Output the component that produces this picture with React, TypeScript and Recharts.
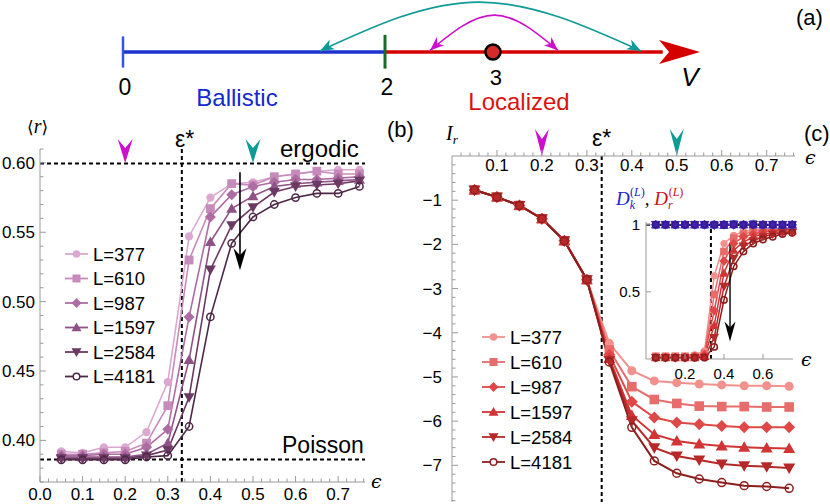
import React from 'react';
import { LineChart, ComposedChart, Line, XAxis, YAxis, ReferenceLine, ReferenceDot } from 'recharts';

// ---------- shared data ----------
const EPS = [0.05, 0.1, 0.15, 0.2, 0.25, 0.3, 0.35, 0.4, 0.45, 0.5, 0.55, 0.6, 0.65, 0.7, 0.75];
const SIZE_LABELS = ['L=377', 'L=610', 'L=987', 'L=1597', 'L=2584', 'L=4181'];
const SHAPES = ['circle', 'square', 'diamond', 'triUp', 'triDown', 'open'];

// (b) mean gap ratio <r>
const R_377 = [0.392, 0.391, 0.395, 0.395, 0.406, 0.442, 0.547, 0.575, 0.585, 0.586, 0.590, 0.592, 0.594, 0.595, 0.595];
const R_610 = [0.390, 0.390, 0.391, 0.392, 0.398, 0.425, 0.530, 0.567, 0.585, 0.584, 0.590, 0.592, 0.594, 0.592, 0.592];
const R_987 = [0.389, 0.389, 0.390, 0.390, 0.395, 0.408, 0.489, 0.561, 0.577, 0.583, 0.586, 0.588, 0.588, 0.589, 0.590];
const R_1597 = [0.388, 0.388, 0.388, 0.388, 0.390, 0.398, 0.458, 0.543, 0.567, 0.576, 0.583, 0.585, 0.586, 0.587, 0.588];
const R_2584 = [0.387, 0.387, 0.387, 0.387, 0.389, 0.393, 0.431, 0.523, 0.555, 0.568, 0.579, 0.583, 0.584, 0.585, 0.587];
const R_4181 = [0.386, 0.386, 0.386, 0.386, 0.388, 0.389, 0.410, 0.489, 0.542, 0.561, 0.570, 0.575, 0.578, 0.578, 0.583];
const R_ERGODIC = 0.5996;
const R_POISSON = 0.3863;
const EPS_STAR = 0.333;

// (c) I_r
const I_377 = [-0.77, -0.93, -1.12, -1.42, -1.92, -2.80, -4.24, -4.86, -5.09, -5.13, -5.16, -5.18, -5.20, -5.20, -5.21];
const I_610 = [-0.77, -0.93, -1.12, -1.42, -1.92, -2.80, -4.39, -5.22, -5.51, -5.60, -5.66, -5.67, -5.67, -5.68, -5.68];
const I_987 = [-0.77, -0.93, -1.12, -1.42, -1.92, -2.80, -4.50, -5.56, -5.92, -6.03, -6.07, -6.11, -6.14, -6.14, -6.14];
const I_1597 = [-0.77, -0.93, -1.12, -1.42, -1.92, -2.80, -4.58, -5.87, -6.30, -6.45, -6.52, -6.56, -6.59, -6.61, -6.62];
const I_2584 = [-0.77, -0.93, -1.12, -1.42, -1.92, -2.80, -4.63, -5.99, -6.60, -6.79, -6.88, -6.97, -7.01, -7.03, -7.06];
const I_4181 = [-0.77, -0.93, -1.12, -1.42, -1.92, -2.80, -4.66, -6.14, -6.90, -7.18, -7.31, -7.39, -7.46, -7.48, -7.52];

// inset D_k, D_r
const DK_377 = [1.0, 1.0, 1.0, 1.0, 1.0, 1.0, 1.0, 1.005, 1.01, 1.0, 1.01, 0.995, 1.005, 1.0, 0.995];
const DK_610 = [1.0, 1.0, 1.0, 1.0, 1.0, 1.0, 1.0, 1.0, 1.005, 1.0, 1.005, 1.0, 1.0, 1.0, 1.0];
const DK_987 = [1.0, 1.0, 1.0, 1.0, 1.0, 1.0, 1.0, 1.0, 1.0, 1.0, 1.0, 1.0, 1.0, 1.0, 1.0];
const DK_1597 = [1.0, 1.0, 1.0, 1.0, 1.0, 1.0, 1.0, 0.995, 1.0, 1.0, 1.0, 1.0, 1.0, 0.995, 1.0];
const DK_2584 = [1.0, 1.0, 1.0, 1.0, 1.0, 1.0, 0.995, 1.0, 1.0, 0.995, 1.0, 1.0, 1.0, 1.0, 1.0];
const DK_4181 = [1.0, 1.0, 1.0, 1.0, 1.0, 1.0, 1.0, 1.0, 1.0, 1.0, 1.0, 1.0, 1.0, 1.0, 1.0];
const DR_377 = [0.02, 0.02, 0.02, 0.02, 0.03, 0.06, 0.62, 0.86, 0.92, 0.95, 0.96, 0.97, 0.97, 0.975, 0.975];
const DR_610 = [0.02, 0.02, 0.02, 0.02, 0.02, 0.04, 0.48, 0.80, 0.90, 0.93, 0.95, 0.96, 0.965, 0.97, 0.97];
const DR_987 = [0.01, 0.01, 0.01, 0.01, 0.02, 0.03, 0.36, 0.73, 0.86, 0.91, 0.93, 0.95, 0.955, 0.96, 0.965];
const DR_1597 = [0.01, 0.01, 0.01, 0.01, 0.01, 0.02, 0.25, 0.64, 0.81, 0.87, 0.91, 0.93, 0.94, 0.95, 0.955];
const DR_2584 = [0.01, 0.01, 0.01, 0.01, 0.01, 0.015, 0.16, 0.54, 0.75, 0.84, 0.88, 0.91, 0.93, 0.94, 0.945];
const DR_4181 = [0.01, 0.01, 0.01, 0.01, 0.01, 0.01, 0.09, 0.44, 0.69, 0.80, 0.86, 0.89, 0.91, 0.93, 0.94];

// (a) schematic number line (schematic positions, not to scale)
const BALLISTIC = [{ v: 0, y: 0 }, { v: 2, y: 0 }];
const LOCALIZED = [{ v: 2, y: 0 }, { v: 4.12, y: 0 }];
const ARROW_TIP_V = 4.405;
const POINT_3_V = 2.824;
const TEAL_ARC = [{ v: 1.504, y: 0.02 }, { v: 2.72, y: 0.96 }, { v: 3.954, y: 0.02 }];
const MAGENTA_ARC = [{ v: 2.344, y: 0.03 }, { v: 2.835, y: 0.71 }, { v: 3.321, y: 0.03 }];
const NUMBER_LABELS = [{ v: 0, t: '0' }, { v: 2, t: '2' }];

// ticks
const range = (a: number, b: number, step: number) => {
  const out: number[] = [];
  const n = Math.round((b - a) / step);
  for (let i = 0; i <= n; i++) out.push(Math.round((a + i * step) * 1000) / 1000);
  return out;
};
const B_X_MAJOR = [0, 0.1, 0.2, 0.3, 0.4, 0.5, 0.6, 0.7];
const B_X_TICKS = range(0, 0.76, 0.02);
const B_Y_MAJOR = [0.4, 0.45, 0.5, 0.55, 0.6];
const B_Y_TICKS = range(0.37, 0.61, 0.01);
const C_X_MAJOR = [0.1, 0.2, 0.3, 0.4, 0.5, 0.6, 0.7];
const C_X_TICKS = range(0.02, 0.76, 0.02);
const C_Y_MAJOR = [-1, -2, -3, -4, -5, -6, -7];
const C_Y_TICKS = range(-7.8, -0.2, 0.2);
const IN_X_MAJOR = [0.2, 0.4, 0.6];
const IN_Y_MAJOR = [0.5, 1];

// ---------- styles ----------
const SANS = "'Liberation Sans', Arial, Helvetica, sans-serif";
const SERIF = "'Liberation Serif', 'DejaVu Serif', serif";
const AXIS = '#9a9a9a';
const PURPLES = ['#daa8d0', '#c68bba', '#ad6ca2', '#8f5287', '#6c3962', '#4c2846'];
const REDS = ['#f2918d', '#e66d6b', '#de4947', '#d13434', '#b72828', '#8c1e1e'];
const BLUES = ['#6a8cf2', '#4f6ee6', '#3f50d6', '#3a36c4', '#3d24a8', '#3e1490'];
const MAGENTA = '#cc11cc';
const TEAL = '#0f9a96';

const keys = ['s0', 's1', 's2', 's3', 's4', 's5'];
const build = (series: number[][]) =>
  EPS.map((e, i) => {
    const row: any = { eps: e };
    series.forEach((s, k) => (row[keys[k]] = s[i]));
    return row;
  });
const DATA_B = build([R_377, R_610, R_987, R_1597, R_2584, R_4181]);
const DATA_C = build([I_377, I_610, I_987, I_1597, I_2584, I_4181]);
const DATA_DK = build([DK_377, DK_610, DK_987, DK_1597, DK_2584, DK_4181]);
const DATA_DR = build([DR_377, DR_610, DR_987, DR_1597, DR_2584, DR_4181]);

function marker(shape: string, cx: number, cy: number, s: number, color: string, key?: any, openFill = 'none') {
  switch (shape) {
    case 'circle':
      return <circle key={key} cx={cx} cy={cy} r={s * 0.75} fill={color} />;
    case 'square':
      return <rect key={key} x={cx - s * 0.8} y={cy - s * 0.8} width={s * 1.6} height={s * 1.6} fill={color} />;
    case 'diamond':
      return <polygon key={key} points={`${cx},${cy - s} ${cx + s},${cy} ${cx},${cy + s} ${cx - s},${cy}`} fill={color} />;
    case 'triUp':
      return <polygon key={key} points={`${cx},${cy - s} ${cx + s},${cy + s * 0.75} ${cx - s},${cy + s * 0.75}`} fill={color} />;
    case 'triDown':
      return <polygon key={key} points={`${cx},${cy + s} ${cx + s},${cy - s * 0.75} ${cx - s},${cy - s * 0.75}`} fill={color} />;
    default:
      return <circle key={key} cx={cx} cy={cy} r={s * 0.66} fill={openFill} stroke={color} strokeWidth={1.5} />;
  }
}
const dotFn = (shape: string, color: string, s: number) => (p: any) => {
  if (p.cx == null || p.cy == null) return <g key={p.index} />;
  return marker(shape, p.cx, p.cy, s, color, p.index);
};

type TickOpt = {
  major: number[];
  fmt: (v: number) => string;
  majorLen: number;
  minorLen: number;
  dir: 'up' | 'right';
  off: number;
  fs: number;
};
const mkTick = (o: TickOpt) => (props: any) => {
  const { x, y, payload } = props;
  const v = payload.value;
  const isMajor = o.major.some((m) => Math.abs(m - v) < 1e-6);
  const len = isMajor ? o.majorLen : o.minorLen;
  return (
    <g>
      {o.dir === 'up' ? (
        <line x1={x} x2={x} y1={y} y2={y - len} stroke={AXIS} strokeWidth={1} />
      ) : (
        <line x1={x} x2={x + len} y1={y} y2={y} stroke={AXIS} strokeWidth={1} />
      )}
      {isMajor &&
        (o.dir === 'up' ? (
          <text x={x} y={y + o.off} textAnchor="middle" fontFamily={SANS} fontSize={o.fs} fill="#000">
            {o.fmt(v)}
          </text>
        ) : (
          <text x={x - o.off} y={y + o.fs * 0.36} textAnchor="end" fontFamily={SANS} fontSize={o.fs} fill="#000">
            {o.fmt(v)}
          </text>
        ))}
    </g>
  );
};

const downArrow = (head: number, w: number, notch: number, sw: number) => (p: any) => {
  const { x1, y1, x2, y2 } = p;
  return (
    <g>
      <line x1={x1} y1={y1} x2={x2} y2={y2 - head + notch} stroke="#000" strokeWidth={sw} />
      <polygon points={`${x2},${y2} ${x2 - w / 2},${y2 - head} ${x2},${y2 - head + notch} ${x2 + w / 2},${y2 - head}`} fill="#000" />
    </g>
  );
};
const pointerHead = (color: string, h: number, w: number, notch: number) => (p: any) => {
  const { cx, cy } = p;
  return <polygon points={`${cx},${cy} ${cx - w / 2},${cy - h} ${cx},${cy - h + notch} ${cx + w / 2},${cy - h}`} fill={color} />;
};

const dashed = { stroke: '#000', strokeWidth: 2, strokeDasharray: '4 3' };

// ---------- panels ----------
function PanelA() {
  const arcDot = (color: string, a0: number, a1: number) => (p: any) => {
    const { cx, cy, index } = p;
    if (index === 1 || cx == null) return <g key={index} />;
    const ang = index === 0 ? a0 : a1;
    return <polygon key={index} points="0,0 -14,-5.5 -10,0 -14,5.5" transform={`translate(${cx},${cy}) rotate(${ang})`} fill={color} />;
  };
  return (
    <ComposedChart width={830} height={115} margin={{ top: 0, right: 0, bottom: 0, left: 0 }}>
      <XAxis hide type="number" dataKey="v" domain={[-0.939, 5.397]} />
      <YAxis hide type="number" domain={[-1.2115, 1]} />
      <Line data={BALLISTIC} dataKey="y" stroke="#1e32d2" strokeWidth={3.5} dot={false} activeDot={false} isAnimationActive={false} />
      <Line data={LOCALIZED} dataKey="y" stroke="#d40000" strokeWidth={3.5} dot={false} activeDot={false} isAnimationActive={false} />
      <Line data={TEAL_ARC} dataKey="y" type="natural" stroke={TEAL} strokeWidth={1.6} dot={arcDot(TEAL, 152, 28)} activeDot={false} isAnimationActive={false} />
      <Line data={MAGENTA_ARC} dataKey="y" type="natural" stroke={MAGENTA} strokeWidth={1.6} dot={arcDot(MAGENTA, 138, 42)} activeDot={false} isAnimationActive={false} />
      <ReferenceLine segment={[{ x: 0, y: -0.3 }, { x: 0, y: 0.3 }]} stroke="#3355e0" strokeWidth={2.5} />
      <ReferenceLine segment={[{ x: 2, y: -0.32 }, { x: 2, y: 0.33 }]} stroke="#186a28" strokeWidth={3} />
      <ReferenceDot
        x={ARROW_TIP_V}
        y={0}
        r={1}
        shape={(p: any) => (
          <polygon points={`${p.cx},${p.cy} ${p.cx - 41},${p.cy - 12} ${p.cx - 31},${p.cy} ${p.cx - 41},${p.cy + 12}`} fill="#d40000" />
        )}
      />
      <ReferenceDot x={POINT_3_V} y={0} r={7.5} fill="#d42a2a" stroke="#000" strokeWidth={2.5} />
      {NUMBER_LABELS.map((l) => (
        <ReferenceDot
          key={l.t}
          x={l.v}
          y={0}
          r={1}
          shape={(p: any) => (
            <text x={p.cx + 2} y={p.cy + 43} textAnchor="middle" fontFamily={SANS} fontSize={23} fill="#000">
              {l.t}
            </text>
          )}
        />
      ))}
      <ReferenceDot
        x={POINT_3_V}
        y={0}
        r={1}
        shape={(p: any) => (
          <text x={p.cx + 3} y={p.cy + 33} textAnchor="middle" fontFamily={SANS} fontSize={22} fill="#000">
            3
          </text>
        )}
      />
    </ComposedChart>
  );
}

function PanelB() {
  return (
    <LineChart width={400} height={384} data={DATA_B} margin={{ top: 29, right: 35, bottom: 0, left: 0 }}>
      <XAxis
        type="number"
        dataKey="eps"
        domain={[0, 0.763]}
        ticks={B_X_TICKS}
        interval={0}
        height={22}
        stroke={AXIS}
        tickSize={0}
        tickMargin={0}
        tick={mkTick({ major: B_X_MAJOR, fmt: (v) => v.toFixed(1), majorLen: 6, minorLen: 3.5, dir: 'up', off: 18, fs: 17 })}
      />
      <YAxis
        type="number"
        domain={[0.37, 0.61]}
        ticks={B_Y_TICKS}
        interval={0}
        width={40}
        stroke={AXIS}
        tickSize={0}
        tickMargin={0}
        tick={mkTick({ major: B_Y_MAJOR, fmt: (v) => v.toFixed(2), majorLen: 6, minorLen: 3.5, dir: 'right', off: 5, fs: 17 })}
      />
      <ReferenceLine y={R_ERGODIC} {...dashed} />
      <ReferenceLine y={R_POISSON} {...dashed} />
      <ReferenceLine x={EPS_STAR} {...dashed} />
      {keys.map((k, i) => (
        <Line
          key={k}
          dataKey={k}
          stroke={PURPLES[i]}
          strokeWidth={1.6}
          dot={dotFn(SHAPES[i], PURPLES[i], 5.5)}
          activeDot={false}
          isAnimationActive={false}
        />
      ))}
      <ReferenceLine segment={[{ x: 0.4695, y: 0.5932 }, { x: 0.4695, y: 0.5226 }]} shape={downArrow(22, 13, 7, 1.6)} />
      <ReferenceDot x={0.2} y={0.6} r={1} shape={pointerHead(MAGENTA, 24, 15, 9)} />
      <ReferenceDot x={0.5} y={0.6} r={1} shape={pointerHead(TEAL, 24, 15, 9)} />
    </LineChart>
  );
}

function PanelC() {
  return (
    <LineChart width={430} height={384} data={DATA_C} margin={{ top: 35, right: 35, bottom: 2, left: 0 }}>
      <XAxis
        type="number"
        dataKey="eps"
        orientation="top"
        domain={[0, 0.763]}
        ticks={C_X_TICKS}
        interval={0}
        height={1}
        stroke={AXIS}
        tickSize={0}
        tickMargin={0}
        tick={mkTick({ major: C_X_MAJOR, fmt: (v) => v.toFixed(1), majorLen: 6, minorLen: 3.5, dir: 'up', off: 15, fs: 17 })}
      />
      <YAxis
        type="number"
        domain={[-7.83, 0]}
        ticks={C_Y_TICKS}
        interval={0}
        width={52}
        stroke={AXIS}
        tickSize={0}
        tickMargin={0}
        tick={mkTick({ major: C_Y_MAJOR, fmt: (v) => '\u2212' + Math.abs(v), majorLen: 6, minorLen: 3.5, dir: 'right', off: 10, fs: 17 })}
      />
      <ReferenceLine x={EPS_STAR} {...dashed} />
      {keys.map((k, i) => (
        <Line
          key={k}
          dataKey={k}
          stroke={REDS[i]}
          strokeWidth={2}
          dot={dotFn(SHAPES[i], REDS[i], 6)}
          activeDot={false}
          isAnimationActive={false}
        />
      ))}
      <ReferenceDot x={0.2} y={0} r={1} shape={pointerHead(MAGENTA, 27, 14, 10)} />
      <ReferenceDot x={0.5} y={0} r={1} shape={pointerHead(TEAL, 27, 14, 10)} />
    </LineChart>
  );
}

function Inset() {
  return (
    <LineChart width={203} height={173} margin={{ top: 12, right: 10, bottom: 0, left: 0 }}>
      <XAxis
        type="number"
        dataKey="eps"
        domain={[0, 0.754]}
        ticks={IN_X_MAJOR}
        interval={0}
        height={24}
        stroke={AXIS}
        tickSize={0}
        tickMargin={0}
        tick={mkTick({ major: IN_X_MAJOR, fmt: (v) => v.toFixed(1), majorLen: 5, minorLen: 3, dir: 'up', off: 20, fs: 15 })}
      />
      <YAxis
        type="number"
        domain={[0, 1.02]}
        ticks={IN_Y_MAJOR}
        interval={0}
        width={46}
        stroke={AXIS}
        tickSize={0}
        tickMargin={0}
        tick={mkTick({ major: IN_Y_MAJOR, fmt: (v) => String(v), majorLen: 5, minorLen: 3, dir: 'right', off: 6, fs: 15 })}
      />
      <ReferenceLine x={EPS_STAR} {...dashed} />
      {keys.map((k, i) => (
        <Line
          key={'r' + k}
          data={DATA_DR}
          dataKey={k}
          stroke={REDS[i]}
          strokeWidth={1.5}
          dot={dotFn(SHAPES[i], REDS[i], 4.8)}
          activeDot={false}
          isAnimationActive={false}
        />
      ))}
      {keys.map((k, i) => (
        <Line
          key={'k' + k}
          data={DATA_DK}
          dataKey={k}
          stroke={BLUES[i]}
          strokeWidth={1.5}
          dot={dotFn(SHAPES[i], BLUES[i], 4.8)}
          activeDot={false}
          isAnimationActive={false}
        />
      ))}
      <ReferenceLine y={1} {...dashed} />
      <ReferenceLine segment={[{ x: 0.431, y: 0.865 }, { x: 0.431, y: 0.13 }]} shape={downArrow(20, 11, 6, 1.4)} />
    </LineChart>
  );
}

function Legend({ x0, y0, dy, colors }: { x0: number; y0: number; dy: number; colors: string[] }) {
  return (
    <g>
      {SIZE_LABELS.map((lab, i) => {
        const y = y0 + i * dy;
        return (
          <g key={lab}>
            <line x1={x0} x2={x0 + 23} y1={y} y2={y} stroke={colors[i]} strokeWidth={1.8} />
            {marker(SHAPES[i], x0 + 11.5, y, 5, colors[i], undefined, '#fff')}
            <text x={x0 + 28} y={y + 6.5} fontFamily={SANS} fontSize={18.5} fill="#000">
              {lab}
            </text>
          </g>
        );
      })}
    </g>
  );
}

function Overlay() {
  return (
    <svg width={830} height={504} style={{ position: 'absolute', left: 0, top: 0, pointerEvents: 'none' }}>
      {/* panel (a) texts */}
      <text x={796} y={25} fontFamily={SANS} fontSize={22}>(a)</text>
      <text x={690} y={86} textAnchor="middle" fontFamily={SANS} fontStyle="italic" fontSize={26}>V</text>
      <text x={237} y={106} textAnchor="middle" fontFamily={SANS} fontSize={24} fill="#1428d2">Ballistic</text>
      <text x={519} y={110} textAnchor="middle" fontFamily={SANS} fontSize={24} fill="#dd1111">Localized</text>
      {/* panel (b) */}
      <text x={27} y={133} fontFamily={SERIF} fontSize={20}>
        <tspan fontFamily="'DejaVu Sans', sans-serif" fontSize={17}>⟨</tspan>
        <tspan fontStyle="italic">r</tspan>
        <tspan fontFamily="'DejaVu Sans', sans-serif" fontSize={17}>⟩</tspan>
      </text>
      <text x={175} y={147} fontFamily={SANS} fontSize={23}>ε*</text>
      <text x={280} y={157} fontFamily={SANS} fontSize={24}>ergodic</text>
      <text x={282} y={453} fontFamily={SANS} fontSize={23}>Poisson</text>
      <text x={371} y={488} fontFamily="'DejaVu Serif', serif" fontStyle="italic" fontSize={19}>ϵ</text>
      {/* panel (c) */}
      <text x={387} y={137} fontFamily={SANS} fontSize={22}>(b)</text>
      <text x={446} y={140} fontFamily={SERIF} fontStyle="italic" fontSize={20}>
        I<tspan fontSize={13} dy={4}>r</tspan>
      </text>
      <text x={592} y={146} fontFamily={SANS} fontSize={23}>ε*</text>
      <text x={804} y={141} fontFamily={SANS} fontSize={22}>(c)</text>
      <text x={805} y={164} fontFamily="'DejaVu Serif', serif" fontStyle="italic" fontSize={19}>ϵ</text>
      <text x={801} y={366} fontFamily="'DejaVu Serif', serif" fontStyle="italic" fontSize={19}>ϵ</text>
      <text x={616} y={205} fontFamily={SERIF} fontStyle="italic" fontSize={19}>
        <tspan fill="#2222cc">D</tspan>
        <tspan fill="#2222cc" fontSize={12} dy={4}>k</tspan>
        <tspan fill="#2222cc" fontSize={12} fontStyle="normal" dx={-5} dy={-13}>(</tspan>
        <tspan fill="#2222cc" fontSize={12}>L</tspan>
        <tspan fill="#2222cc" fontSize={12} fontStyle="normal">)</tspan>
        <tspan fill="#000" fontStyle="normal" dy={9}>, </tspan>
        <tspan fill="#cc1111">D</tspan>
        <tspan fill="#cc1111" fontSize={12} dy={4}>r</tspan>
        <tspan fill="#cc1111" fontSize={12} fontStyle="normal" dx={-4} dy={-13}>(</tspan>
        <tspan fill="#cc1111" fontSize={12}>L</tspan>
        <tspan fill="#cc1111" fontSize={12} fontStyle="normal">)</tspan>
      </text>
      <Legend x0={65} y0={254} dy={24.5} colors={PURPLES} />
      <Legend x0={482} y0={337} dy={25} colors={REDS} />
    </svg>
  );
}

export default function App() {
  return (
    <div style={{ position: 'absolute', left: 0, top: 0, width: 830, height: 504, background: '#fff', overflow: 'hidden' }}>
      <div style={{ position: 'absolute', left: 0, top: 0 }}>
        <PanelA />
      </div>
      <div style={{ position: 'absolute', left: 0, top: 120 }}>
        <PanelB />
      </div>
      <div style={{ position: 'absolute', left: 400, top: 120 }}>
        <PanelC />
      </div>
      <div style={{ position: 'absolute', left: 600, top: 210 }}>
        <Inset />
      </div>
      <Overlay />
    </div>
  );
}
